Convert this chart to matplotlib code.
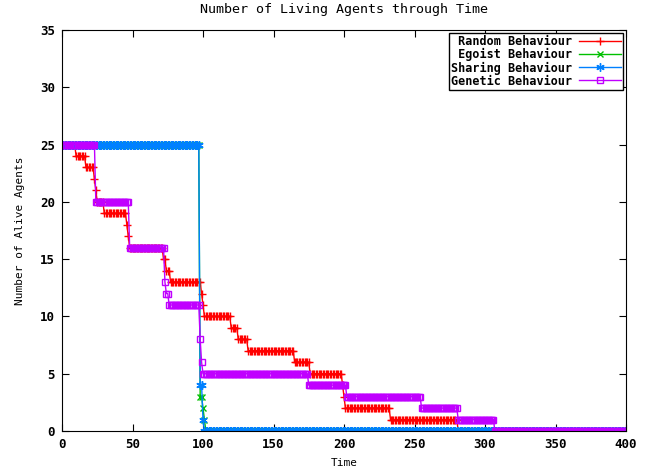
#!/usr/bin/env python3
import numpy as np
import matplotlib
matplotlib.use('Agg')
import matplotlib.pyplot as plt

# step data: level held until (and including) the given time
random_levels = [25, 24, 23, 22, 21, 20, 19, 18, 17, 16, 15, 14, 13, 12, 11, 10, 9, 8, 7, 6, 5, 4, 3, 2, 1, 0]
random_until  = [ 9, 16, 22, 23, 24, 29, 45, 46, 47, 71, 73, 76, 98, 99, 100, 119, 124, 131, 164, 175, 198, 199, 200, 232, 280, 400]

egoist_levels = [25, 3, 2, 1, 0]
egoist_until  = [97, 99, 100, 101, 400]

sharing_levels = [25, 4, 1, 0]
sharing_until  = [97, 99, 100, 400]

genetic_levels = [25, 20, 16, 13, 12, 11, 8, 6, 5, 4, 3, 2, 1, 0]
genetic_until  = [23, 47, 72, 73, 75, 97, 98, 99, 174, 201, 254, 280, 306, 400]

time_steps = np.arange(0, 401, 1)

def expand(levels, until):
	idx = np.searchsorted(until, time_steps, side='left')
	return np.array(levels)[idx]

def main() -> None:
	plt.rcParams['font.family'] = 'DejaVu Sans Mono'
	plt.rcParams['font.weight'] = 'bold'
	plt.rcParams['font.size'] = 8

	figure = plt.figure(figsize=(6.54, 4.72), dpi=100)
	axis = figure.add_axes([62 / 654, 41 / 472, 564 / 654, 401 / 472])

	axis.plot(time_steps, expand(random_levels, random_until), color='#ff0000', lw=1,
		marker='+', ms=6, mew=1, label=' Random Behaviour')
	axis.plot(time_steps, expand(egoist_levels, egoist_until), color='#00c000', lw=1,
		marker='x', ms=5, mew=1, label=' Egoist Behaviour')
	axis.plot(time_steps, expand(sharing_levels, sharing_until), color='#0080ff', lw=1,
		marker=(6, 2, 0), ms=6, mew=1, label='Sharing Behaviour')
	axis.plot(time_steps, expand(genetic_levels, genetic_until), color='#c000ff', lw=1,
		marker='s', ms=5, mew=1, mfc='none', label='Genetic Behaviour')

	axis.set_xlim(0, 400)
	axis.set_ylim(0, 35)
	axis.set_xticks(range(0, 401, 50))
	axis.set_yticks(range(0, 36, 5))
	axis.tick_params(direction='in', top=True, right=True, length=5, pad=5, labelsize=9)
	axis.set_xlabel('Time', labelpad=5)
	axis.set_ylabel('Number of Alive Agents', labelpad=11)
	axis.set_title('Number of Living Agents through Time', pad=12)

	legend = axis.legend(loc='upper right', markerfirst=False, fancybox=False,
		edgecolor='black', framealpha=1, handlelength=3.5, borderpad=0.2,
		labelspacing=0.0, handletextpad=0.6, borderaxespad=0.25, fontsize=8.5)
	legend.get_frame().set_linewidth(1)

	figure.savefig('out.png', dpi=100)

if __name__ == '__main__':
	main()
